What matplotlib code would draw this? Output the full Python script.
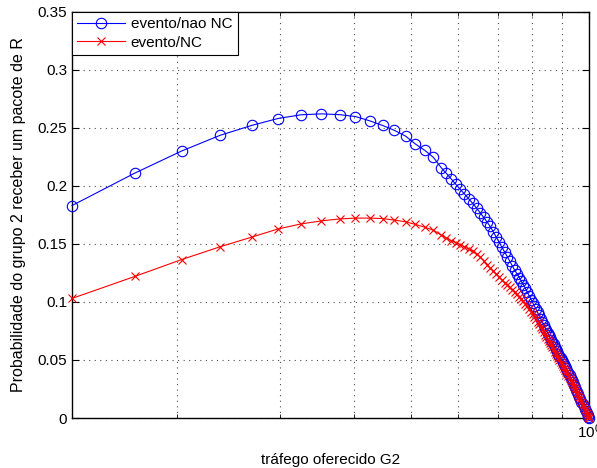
import matplotlib
matplotlib.use("Agg")
import matplotlib.pyplot as plt
from matplotlib.ticker import FixedLocator, NullFormatter

plt.rcParams['font.family'] = ['Liberation Sans', 'DejaVu Sans']

# traffic offered G2 (x) and the two probability curves
g2 = [0.133, 0.170, 0.204, 0.237, 0.268, 0.297, 0.325, 0.352, 0.378, 0.402,
      0.425, 0.447, 0.468, 0.489, 0.508, 0.527, 0.545, 0.562, 0.573, 0.584,
      0.595, 0.605, 0.615, 0.625, 0.635, 0.645, 0.654, 0.663, 0.672, 0.680,
      0.688, 0.696, 0.704, 0.712, 0.720, 0.727, 0.734, 0.741, 0.748, 0.755,
      0.762, 0.768, 0.774, 0.780, 0.786, 0.792, 0.798, 0.803, 0.808, 0.813,
      0.818, 0.823, 0.828, 0.833, 0.838, 0.843, 0.847, 0.851, 0.855, 0.859,
      0.863, 0.867, 0.871, 0.875, 0.879, 0.883, 0.887, 0.891, 0.895, 0.899,
      0.903, 0.907, 0.911, 0.915, 0.919, 0.923, 0.927, 0.931, 0.935, 0.939,
      0.943, 0.947, 0.951, 0.955, 0.959, 0.963, 0.967, 0.971, 0.975, 0.979,
      0.983, 0.987, 0.991, 0.995, 0.998, 1.000]

nao_nc = [0.1830, 0.2110, 0.2300, 0.2435, 0.2520, 0.2580, 0.2612, 0.2620, 0.2613, 0.2597,
          0.2560, 0.2520, 0.2478, 0.2428, 0.2360, 0.2305, 0.2245, 0.2155, 0.2108, 0.2060,
          0.2012, 0.1970, 0.1930, 0.1890, 0.1850, 0.1808, 0.1768, 0.1728, 0.1688, 0.1650,
          0.1605, 0.1560, 0.1515, 0.1470, 0.1428, 0.1390, 0.1352, 0.1312, 0.1275, 0.1242,
          0.1208, 0.1178, 0.1150, 0.1118, 0.1085, 0.1052, 0.1020, 0.0992, 0.0965, 0.0938,
          0.0911, 0.0884, 0.0857, 0.0831, 0.0805, 0.0778, 0.0756, 0.0735, 0.0714, 0.0694,
          0.0674, 0.0654, 0.0634, 0.0614, 0.0594, 0.0573, 0.0553, 0.0535, 0.0517, 0.0499,
          0.0481, 0.0463, 0.0445, 0.0427, 0.0408, 0.0389, 0.0369, 0.0349, 0.0328, 0.0307,
          0.0286, 0.0265, 0.0244, 0.0224, 0.0203, 0.0182, 0.0161, 0.0140, 0.0120, 0.0100,
          0.0080, 0.0061, 0.0042, 0.0023, 0.0009, 0.0000]

nc = [0.1030, 0.1220, 0.1365, 0.1475, 0.1558, 0.1628, 0.1672, 0.1698, 0.1715, 0.1722,
      0.1722, 0.1718, 0.1705, 0.1690, 0.1668, 0.1643, 0.1618, 0.1575, 0.1550, 0.1528,
      0.1510, 0.1493, 0.1475, 0.1456, 0.1435, 0.1412, 0.1387, 0.1355, 0.1322, 0.1295,
      0.1268, 0.1242, 0.1216, 0.1190, 0.1165, 0.1145, 0.1125, 0.1104, 0.1084, 0.1064,
      0.1043, 0.1025, 0.1005, 0.0985, 0.0962, 0.0940, 0.0916, 0.0895, 0.0873, 0.0852,
      0.0830, 0.0808, 0.0786, 0.0764, 0.0742, 0.0719, 0.0701, 0.0683, 0.0664, 0.0646,
      0.0628, 0.0609, 0.0591, 0.0572, 0.0554, 0.0536, 0.0517, 0.0500, 0.0482, 0.0464,
      0.0447, 0.0430, 0.0413, 0.0396, 0.0379, 0.0362, 0.0345, 0.0328, 0.0310, 0.0292,
      0.0274, 0.0256, 0.0238, 0.0219, 0.0200, 0.0181, 0.0161, 0.0141, 0.0121, 0.0101,
      0.0081, 0.0061, 0.0041, 0.0022, 0.0009, 0.0000]

yticks = [0, 0.05, 0.1, 0.15, 0.2, 0.25, 0.3, 0.35]
ytick_labels = ['0', '0.05', '0.1', '0.15', '0.2', '0.25', '0.3', '0.35']

fig = plt.figure(figsize=(5.97, 4.68), dpi=100)
ax = fig.add_axes([0.1206, 0.1068, 0.8660, 0.8682])

ax.plot(g2, nao_nc, '-o', color='blue', lw=0.8, ms=7.5, mfc='none', mew=0.8,
        label='evento/nao NC', clip_on=False, zorder=3)
ax.plot(g2, nc, '-x', color='red', lw=0.8, ms=6, mew=0.8,
        label='evento/NC', clip_on=False, zorder=4)

ax.set_xscale('log')
ax.set_xlim(g2[0], 1.0)
ax.set_ylim(0, 0.35)
ax.set_yticks(yticks)
ax.set_yticklabels(ytick_labels)
ax.xaxis.set_major_locator(FixedLocator([1.0]))
ax.xaxis.set_minor_locator(FixedLocator([0.2, 0.3, 0.4, 0.5, 0.6, 0.7, 0.8, 0.9]))
ax.xaxis.set_minor_formatter(NullFormatter())

ax.tick_params(which='both', direction='in', top=True, right=True, labelsize=11)
ax.tick_params(which='major', length=5)
ax.tick_params(which='minor', length=3)
ax.grid(True, which='both', axis='x', linestyle=(0, (1, 4)), color='0.3', lw=0.8)
ax.grid(True, which='major', axis='y', linestyle=(0, (1, 4)), color='0.3', lw=0.8)
for s in ax.spines.values():
    s.set_linewidth(1.0)

ax.set_xlabel('tráfego oferecido G2', fontsize=11, labelpad=8)
ax.set_ylabel('Probabilidade do grupo 2 receber um pacote de R', fontsize=11.5, labelpad=8)

leg = ax.legend(loc='upper left', fontsize=11, fancybox=False, framealpha=1,
                edgecolor='black', borderaxespad=0, handlelength=3.1,
                handletextpad=0.4, borderpad=0.35, labelspacing=0.3)
leg.get_frame().set_linewidth(0.8)

fig.savefig('out.png', dpi=100)
